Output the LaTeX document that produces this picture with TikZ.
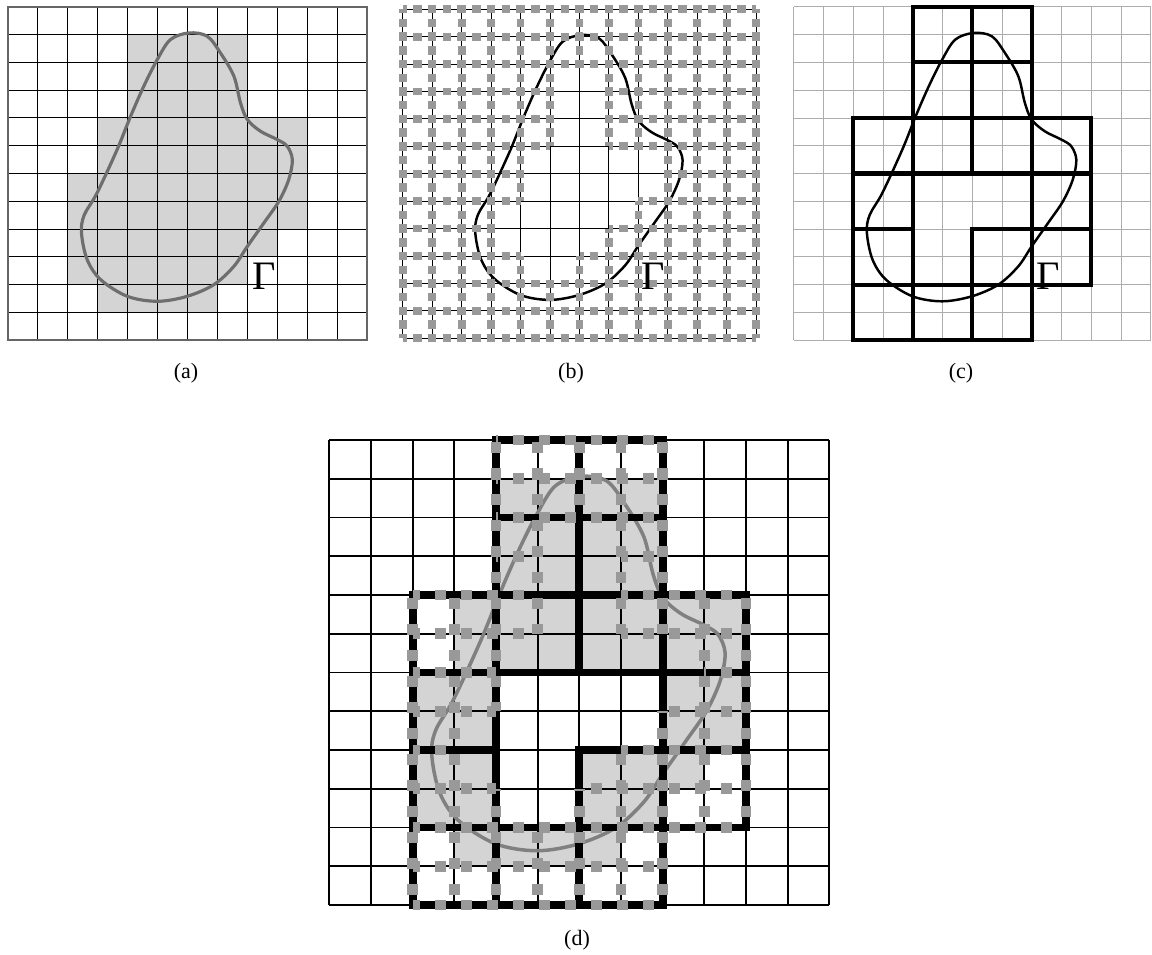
\documentclass[tikz,border=0pt]{standalone}
\usepackage{fontspec}
\setmainfont{Liberation Serif}

\definecolor{cellfill}{gray}{0.83}
\definecolor{dashgray}{gray}{0.6}
\definecolor{blobgray}{gray}{0.43}
\definecolor{finegray}{gray}{0.68}

% the curve Gamma, in cell units
\newcommand\drawblob[1]{\draw[#1] plot[smooth cycle, tension=0.55] coordinates {(6.05,11.06) (5.43,10.82) (4.99,10.10) (4.54,9.14) (4.10,8.06) (3.65,6.86) (2.98,5.30) (2.55,4.50) (2.46,3.86) (2.65,2.90) (3.10,2.18) (3.99,1.58) (4.99,1.40) (5.99,1.58) (6.88,2.00) (7.55,2.66) (8.00,3.38) (8.55,4.22) (9.05,5.00) (9.38,5.78) (9.50,6.50) (9.33,6.98) (9.00,7.22) (8.44,7.52) (8.00,7.94) (7.77,8.54) (7.55,9.50) (7.10,10.34) (6.66,10.94)};}

% dashed cell edges: #1,#2 styles, #3 only in active cells, #4,#5 edge lengths (pt), #6 phase
\newcommand\edgedashes[6]{%
  \foreach \col in {0,...,11}{%
    \foreach \k in {0,...,12}{%
      \pgfmathtruncatemacro\kb{\k-1}%
      \pgfmathsetmacro\ph{\col*#4+#6}%
      \def\show{1}%
      \ifcsname in@\col @\k\endcsname\ifcsname in@\col @\kb\endcsname\def\show{0}\fi\fi
      \ifnum#3=1 \ifcsname act@\col @\k\endcsname\else\ifcsname act@\col @\kb\endcsname\else\def\show{0}\fi\fi\fi
      \ifnum\show=1 \draw[#1, dash phase=\ph pt] (\col,\k) -- ++(1,0);\fi
    }%
  }%
  \foreach \row in {0,...,11}{%
    \foreach \k in {0,...,12}{%
      \pgfmathtruncatemacro\kb{\k-1}%
      \pgfmathtruncatemacro\rt{\row+1}%
      \pgfmathsetmacro\ph{(11-\row)*#5+#6}%
      \def\show{1}%
      \ifcsname in@\k @\row\endcsname\ifcsname in@\kb @\row\endcsname\def\show{0}\fi\fi
      \ifnum#3=1 \ifcsname act@\k @\row\endcsname\else\ifcsname act@\kb @\row\endcsname\else\def\show{0}\fi\fi\fi
      \ifnum\show=1 \draw[#2, dash phase=\ph pt] (\k,\rt) -- (\k,\row);\fi
    }%
  }%
}

\begin{document}
\begin{tikzpicture}[
    finegrid/.style={draw=black, line width=0.6pt},
    lightgrid/.style={draw=finegray, line width=0.5pt},
    coarse/.style={draw=black, line width=2.4pt, line cap=rect},
    coarsed/.style={draw=black, line width=4.5pt, line cap=rect},
    hdashb/.style={draw=dashgray, line width=4.4pt, dash pattern=on 4.8pt off 3.58pt},
    vdashb/.style={draw=dashgray, line width=4.4pt, dash pattern=on 4.8pt off 3.0pt},
    hdashd/.style={draw=dashgray, line width=6pt, dash pattern=on 6.4pt off 8.4pt},
    vdashd/.style={draw=dashgray, line width=6pt, dash pattern=on 6.4pt off 8.4pt},
    gammalabel/.style={font=\fontsize{23}{26}\selectfont, inner sep=0pt},
    caption/.style={font=\fontsize{12.5}{15}\selectfont, inner sep=0pt}
]
\useasboundingbox (0,0) rectangle (23.04,19.08);

% cells inside Gamma
\foreach \p/\q in {5/9,6/9,5/8,6/8,5/7,6/7,4/6,5/6,6/6,7/6,8/6,4/5,5/5,6/5,7/5,8/5,
    3/4,4/4,5/4,6/4,7/4,3/3,4/3,5/3,6/3,4/2,5/2}
  {\expandafter\gdef\csname in@\p @\q\endcsname{}}
% cells of the coarse elements
\foreach \q/\u/\v in {11/4/7,10/4/7,9/4/7,8/4/7,7/2/9,6/2/9,5/2/9,4/2/9,3/2/9,2/2/9,1/2/7,0/2/7}
  \foreach \p in {\u,...,\v}
    {\expandafter\gdef\csname act@\p @\q\endcsname{}}

% (a)
\begin{scope}[shift={(0.156cm,12.276cm)}, x=0.599cm, y=0.5556cm]
  \foreach \q/\u/\v in {10/4/7,9/4/7,8/4/7,7/3/9,6/3/9,5/2/9,4/2/9,3/2/8,2/2/7,1/3/6}
    \fill[cellfill] (\u,\q) rectangle ({\v+1},{\q+1});
  \foreach \k in {0,...,12}{
    \draw[finegrid] (\k,0) -- (\k,12);
    \draw[finegrid] (0,\k) -- (12,\k);
  }
  \draw[black!60, line width=0.9pt] (0,0) rectangle (12,12);
  \drawblob{blobgray, line width=1.8pt}
  \node[gammalabel] (gama) at (8.55,2.3) {Γ};
\end{scope}
\node[caption] (capa) at (3.72,11.62) {(a)};

% (b)
\begin{scope}[shift={(8.056cm,12.314cm)}, x=0.589cm, y=0.5484cm]
  \foreach \k in {0,...,12}{
    \draw[finegrid] (\k,0) -- (\k,12);
    \draw[finegrid] (0,\k) -- (12,\k);
  }
  \drawblob{black, line width=1.4pt}
  \edgedashes{hdashb}{vdashb}{0}{16.76}{15.6}{2.4}
  \node[gammalabel] (gamb) at (8.5,2.25) {Γ};
\end{scope}
\node[caption] (capb) at (11.42,11.62) {(b)};

% (c)
\begin{scope}[shift={(15.874cm,12.276cm)}, x=0.595cm, y=0.5556cm]
  \foreach \k in {0,...,12}{
    \draw[lightgrid] (\k,0) -- (\k,12);
    \draw[lightgrid] (0,\k) -- (12,\k);
  }
  \drawblob{black, line width=1.4pt}
  \foreach \p/\u/\v in {2/0/8,4/0/12,6/6/12,6/0/4,8/0/12,10/2/8}
    \draw[coarse] (\p,\u) -- (\p,\v);
  \foreach \q/\u/\v in {12/4/8,10/4/8,8/2/10,6/2/10,4/2/4,4/6/10,2/2/10,0/2/8}
    \draw[coarse] (\u,\q) -- (\v,\q);
  \node[gammalabel] (gamc) at (8.55,2.3) {Γ};
\end{scope}
\node[caption] (capc) at (19.22,11.62) {(c)};

% (d)
\begin{scope}[shift={(6.586cm,0.98cm)}, x=0.8333cm, y=0.775cm]
  \foreach \q/\u/\v in {10/4/7,9/4/7,8/4/7,7/3/9,6/3/9,5/2/3,5/8/9,4/2/3,4/8/9,
      3/2/3,3/6/8,2/2/3,2/6/7,1/3/6}
    \fill[cellfill] (\u,\q) rectangle ({\v+1},{\q+1});
  \foreach \k in {0,...,12}{
    \draw[finegrid, line width=1pt] (\k,0) -- (\k,12);
    \draw[finegrid, line width=1pt] (0,\k) -- (12,\k);
  }
  \drawblob{black!50, line width=2pt}
  \foreach \p/\u/\v in {2/0/8,4/0/12,6/6/12,6/0/4,8/0/12,10/2/8}
    \draw[coarsed] (\p,\u) -- (\p,\v);
  \foreach \q/\u/\v in {12/4/8,10/4/8,8/2/10,6/2/10,4/2/4,4/6/10,2/2/10,0/2/8}
    \draw[coarsed] (\u,\q) -- (\v,\q);
  \edgedashes{hdashd}{vdashd}{1}{23.72}{22.05}{-1}
\end{scope}
\node[caption] (capd) at (11.54,0.28) {(d)};
\end{tikzpicture}
\end{document}
